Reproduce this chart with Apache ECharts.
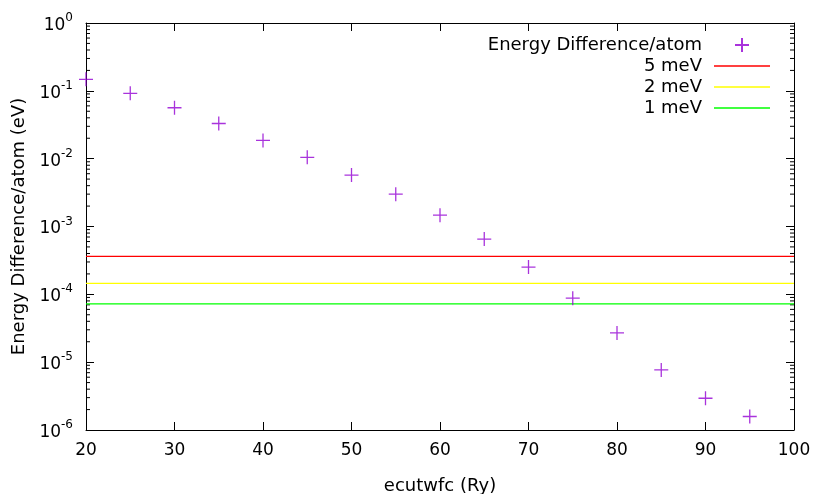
<!DOCTYPE html>
<html><head><meta charset="utf-8">
<script src="https://cdn.jsdelivr.net/npm/echarts@6/dist/echarts.min.js"></script>
<style>html,body{margin:0;padding:0;background:#fff}#c{width:816px;height:494px}</style>
</head><body><div id="c"></div>
<script>
var ecut = [20,25,30,35,40,45,50,55,60,65,70,75,80,85,90,95];
var energyDiff = [0.148,0.0918,0.0563,0.033,0.0186,0.01045,0.00573,0.0030,0.00147,6.52e-4,2.52e-4,8.79e-5,2.70e-5,7.69e-6,2.94e-6,1.58e-6];
var thresholdNames = ['5 meV','2 meV','1 meV'];
var thresholdValues = [3.62e-4, 1.45e-4, 7.24e-5];
var thresholdColors = ['#ff0000','#ffff00','#00ff00'];
var xRange = [20, 100];
var yRange = [1e-6, 1];

var FONT = 'DejaVu Sans';
var minorVals = [];
for (var e = -6; e < 0; e++) for (var m = 2; m <= 9; m++) minorVals.push(m * Math.pow(10, e));

function yFmt(v){
  var ex = Math.round(Math.log10(v));
  return '{b|10}{s|' + ex + '}';
}
var labelRich = {
  b:{fontSize:17, fontFamily:FONT, color:'#000', lineHeight:22, verticalAlign:'bottom'},
  s:{fontSize:12, fontFamily:FONT, color:'#000', lineHeight:22, verticalAlign:'top', padding:[0,0,10,0]}
};

var series = [{
  name:'Energy Difference/atom', type:'scatter', xAxisIndex:0, yAxisIndex:0,
  data: ecut.map(function(x,i){return [x, energyDiff[i]];}),
  symbol:'path://M0,5L10,5M5,0L5,10', symbolSize:14,
  itemStyle:{color:'rgba(0,0,0,0)', borderColor:'#9400d3', borderWidth:1.3},
  z:5
}];
thresholdNames.forEach(function(n,i){
  series.push({
    name:n, type:'line', symbol:'none', xAxisIndex:0, yAxisIndex:0,
    data:[[xRange[0], thresholdValues[i]],[xRange[1], thresholdValues[i]]],
    lineStyle:{color:thresholdColors[i], width:1.3},
    itemStyle:{color:thresholdColors[i]}, z:3
  });
});
series.push({
  name:'minor', type:'custom', xAxisIndex:0, yAxisIndex:0, silent:true,
  data: minorVals.map(function(v){return [xRange[0], v];}),
  renderItem:function(params, api){
    var v = api.value(1);
    var pl = api.coord([xRange[0], v]);
    var pr = api.coord([xRange[1], v]);
    return {type:'group', children:[
      {type:'line', shape:{x1:pl[0], y1:pl[1], x2:pl[0]+4, y2:pl[1]}, style:{stroke:'#000', lineWidth:1}},
      {type:'line', shape:{x1:pr[0]-4, y1:pr[1], x2:pr[0], y2:pr[1]}, style:{stroke:'#000', lineWidth:1}}
    ]};
  }, z:2
});

var legendData = [{name:'Energy Difference/atom'}].concat(thresholdNames.map(function(n,i){
  return {name:n, icon:'path://M0,0L56,0L56,1.4L0,1.4Z', itemStyle:{color:thresholdColors[i]}};
}));

var chart = echarts.init(document.getElementById('c'), null, {renderer:'canvas'});
chart.setOption({
  animation:false,
  backgroundColor:'#fff',
  textStyle:{fontFamily:FONT},
  grid:{left:86, right:22, top:23, bottom:64, outerBoundsMode:'none', containLabel:false},
  legend:{
    data:legendData,
    orient:'vertical', right:41, top:31, align:'right',
    itemWidth:56, itemHeight:14, itemGap:3,
    textStyle:{fontSize:18, fontFamily:FONT, color:'#000', padding:[0,7,0,0]},
    selectedMode:false
  },
  xAxis:[{
    type:'value', min:xRange[0], max:xRange[1], interval:10, position:'bottom',
    name:'ecutwfc (Ry)', nameLocation:'middle', nameGap:47,
    nameTextStyle:{fontSize:18, fontFamily:FONT, color:'#000'},
    axisLine:{lineStyle:{color:'#000', width:1}},
    axisTick:{inside:true, length:8, lineStyle:{color:'#000'}},
    axisLabel:{fontSize:17, fontFamily:FONT, color:'#000', margin:12},
    splitLine:{show:false}
  },{
    type:'value', min:xRange[0], max:xRange[1], interval:10, position:'top',
    axisLine:{lineStyle:{color:'#000', width:1}},
    axisTick:{inside:true, length:8, lineStyle:{color:'#000'}},
    axisLabel:{show:false}, splitLine:{show:false}
  }],
  yAxis:[{
    type:'log', logBase:10, min:yRange[0], max:yRange[1], splitNumber:6, position:'left',
    name:'Energy Difference/atom (eV)', nameLocation:'middle', nameGap:56,
    nameTextStyle:{fontSize:18, fontFamily:FONT, color:'#000'},
    axisLine:{lineStyle:{color:'#000', width:1}},
    axisTick:{inside:true, length:8, lineStyle:{color:'#000'}},
    axisLabel:{formatter:yFmt, rich:labelRich, margin:13},
    splitLine:{show:false}
  },{
    type:'log', logBase:10, min:yRange[0], max:yRange[1], splitNumber:6, position:'right',
    axisLine:{lineStyle:{color:'#000', width:1}},
    axisTick:{inside:true, length:8, lineStyle:{color:'#000'}},
    axisLabel:{show:false}, splitLine:{show:false}
  }],
  series:series
});
</script></body></html>
